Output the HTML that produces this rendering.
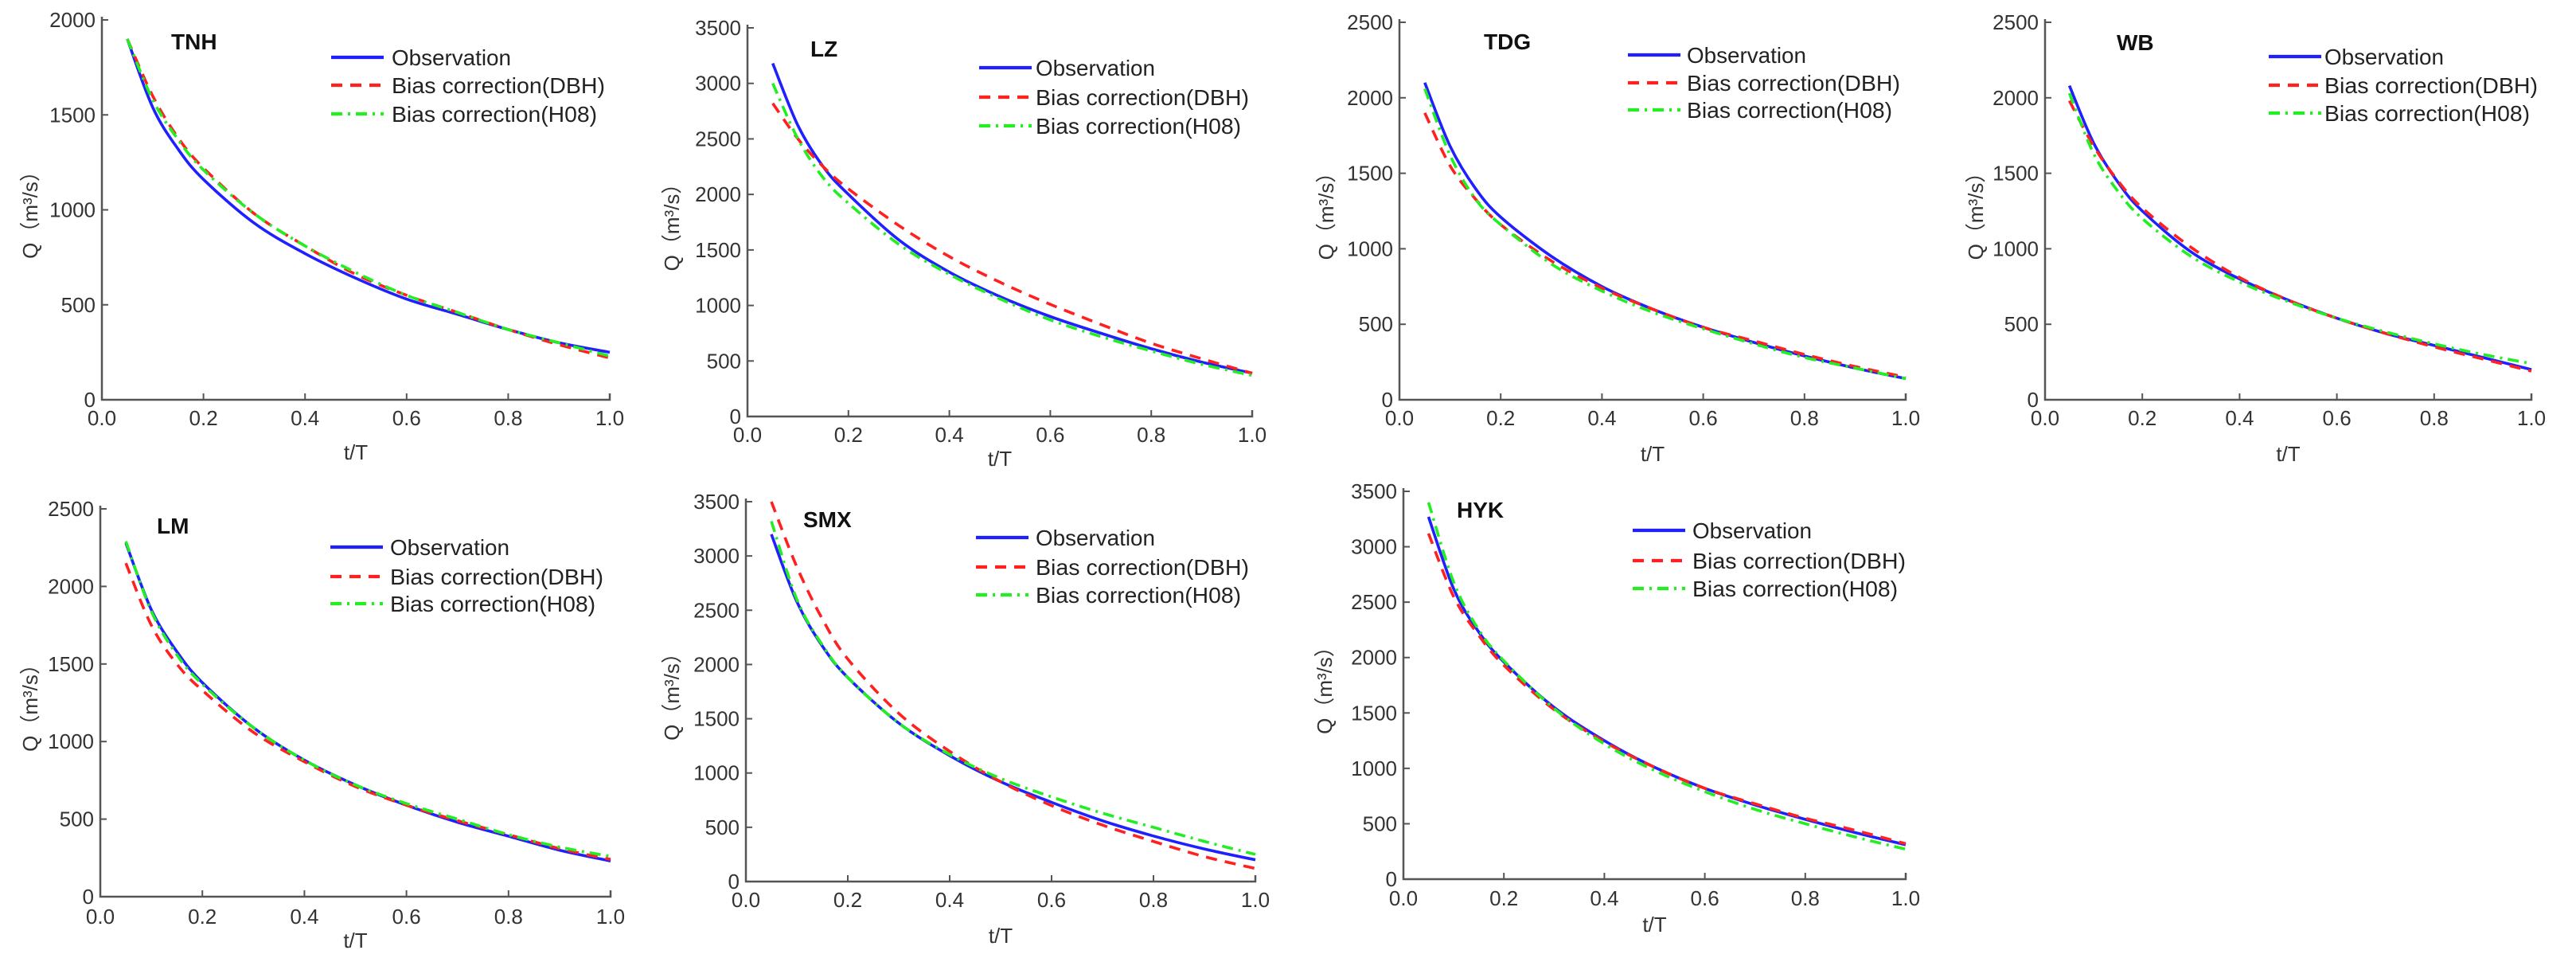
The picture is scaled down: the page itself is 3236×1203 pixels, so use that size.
<!DOCTYPE html>
<html><head><meta charset="utf-8">
<style>
html,body{margin:0;padding:0;background:#fff;}
svg{display:block;font-family:"Liberation Sans","Noto Sans CJK SC",sans-serif;}
</style></head>
<body>
<svg id="chart" width="3236" height="1203" viewBox="0 0 3236 1203"></svg>
<script>
const xValues = [0.05,0.1,0.15,0.2,0.3,0.4,0.5,0.6,0.7,0.8,0.9,1.0];
const xTicks = [0,0.2,0.4,0.6,0.8,1.0];
const xTickLabels = ["0.0","0.2","0.4","0.6","0.8","1.0"];
const stationNames = ["TNH","LZ","TDG","WB","LM","SMX","HYK"];
const yMaxes = [2000,3500,2500,2500,2500,3500,3500];
const obsTNH = [1900,1540,1320,1160,930,770,640,530,450,370,300,250];
const dbhTNH = [1900,1600,1380,1220,980,810,660,550,460,370,290,220];
const h08TNH = [1900,1580,1370,1210,980,810,670,550,460,370,300,230];
const obsLZ = [3180,2620,2250,2000,1590,1300,1080,900,750,610,490,390];
const dbhLZ = [2820,2500,2250,2050,1720,1440,1210,1010,830,660,520,390];
const h08LZ = [3000,2500,2150,1920,1550,1280,1060,870,720,590,470,370];
const obsTDG = [2100,1680,1400,1210,950,750,600,480,380,290,210,140];
const dbhTDG = [1900,1550,1330,1160,920,740,600,480,390,300,220,150];
const h08TDG = [2060,1620,1330,1160,900,720,580,470,370,280,210,140];
const obsWB = [2080,1700,1440,1250,980,800,660,540,440,360,280,200];
const dbhWB = [1980,1680,1450,1270,1010,810,660,540,440,350,270,190];
const h08WB = [2030,1630,1380,1200,950,780,650,540,450,370,300,240];
const obsLM = [2280,1850,1580,1380,1090,880,720,590,480,390,300,230];
const dbhLM = [2150,1750,1500,1330,1060,870,710,590,490,400,310,240];
const h08LM = [2290,1840,1560,1370,1090,880,720,600,500,400,320,260];
const obsSMX = [3200,2580,2170,1880,1460,1160,920,730,560,420,300,200];
const dbhSMX = [3500,2900,2420,2050,1550,1200,920,700,520,370,230,120];
const h08SMX = [3320,2600,2180,1880,1460,1170,950,780,630,500,370,250];
const obsHYK = [3270,2620,2230,1960,1550,1250,1010,820,670,540,420,310];
const dbhHYK = [3120,2550,2200,1930,1530,1240,1010,820,680,550,440,320];
const h08HYK = [3400,2680,2250,1970,1540,1220,980,790,630,500,380,270];
const seriesSets = [[obsTNH,dbhTNH,h08TNH],[obsLZ,dbhLZ,h08LZ],[obsTDG,dbhTDG,h08TDG],[obsWB,dbhWB,h08WB],[obsLM,dbhLM,h08LM],[obsSMX,dbhSMX,h08SMX],[obsHYK,dbhHYK,h08HYK]];
const legendLabels = ["Observation","Bias correction(DBH)","Bias correction(H08)"];

const layouts = [
 {l:128,r:766,t:25,b:502,tx:215,ty:62,lg:416,lgT:492,rows:[72,107,143],tick:534,xl:577,yl:38},
 {l:939,r:1573,t:35,b:523,tx:1018,ty:71,lg:1230,lgT:1301,rows:[85,122,158],tick:555,xl:585,yl:844},
 {l:1758,r:2394,t:28,b:502,tx:1864,ty:62,lg:2045,lgT:2119,rows:[69,104,138],tick:534,xl:579,yl:1666},
 {l:2569,r:3180,t:28,b:502,tx:2659,ty:63,lg:2850,lgT:2920,rows:[71,107,142],tick:534,xl:579,yl:2482},
 {l:126,r:767,t:639,b:1126,tx:197,ty:670,lg:415,lgT:490,rows:[687,724,758],tick:1160,xl:1190,yl:38},
 {l:937,r:1577,t:630,b:1107,tx:1009,ty:662,lg:1226,lgT:1301,rows:[675,712,747],tick:1139,xl:1184,yl:844},
 {l:1763,r:2394,t:617,b:1104,tx:1830,ty:650,lg:2051,lgT:2126,rows:[666,704,739],tick:1137,xl:1170,yl:1664}
];
const styles = [
 {c:"#2020ff",d:"",w:3.6},
 {c:"#ff2020",d:"14 10",w:3.6},
 {c:"#22ee22",d:"14 7 3 7",w:3.6}
];
const NS="http://www.w3.org/2000/svg";
const svg=document.getElementById('chart');
function mk(tag,attrs,parent){const e=document.createElementNS(NS,tag);for(const k in attrs)e.setAttribute(k,attrs[k]);(parent||svg).appendChild(e);return e;}
function smoothPath(pts){let d="M"+pts[0][0].toFixed(1)+","+pts[0][1].toFixed(1);
 for(let i=0;i<pts.length-1;i++){const p0=pts[i-1]||pts[i],p1=pts[i],p2=pts[i+1],p3=pts[i+2]||p2;
  const c1=[p1[0]+(p2[0]-p0[0])/6,p1[1]+(p2[1]-p0[1])/6],c2=[p2[0]-(p3[0]-p1[0])/6,p2[1]-(p3[1]-p1[1])/6];
  d+=" C"+c1[0].toFixed(1)+","+c1[1].toFixed(1)+" "+c2[0].toFixed(1)+","+c2[1].toFixed(1)+" "+p2[0].toFixed(1)+","+p2[1].toFixed(1);}
 return d;}
stationNames.forEach((name,pi)=>{
 const L=layouts[pi],ymax=yMaxes[pi];
 const g=mk('g',{});
 
 
 const xs=v=>L.l+(L.r-L.l)*v;
 const ys=v=>L.b-(L.b-L.t)*v/ymax;
 const ax=mk('path',{d:`M${L.l},${L.t-4} L${L.l},${L.b} L${L.r},${L.b} L${L.r},${L.b-8}`,fill:"none",stroke:"#555","stroke-width":2.5},g);
 
 
 for(let v=0;v<=ymax;v+=500){
  const y=ys(v);
  mk('line',{x1:L.l,x2:L.l+8,y1:y,y2:y,stroke:"#555","stroke-width":2},g);
  const t=mk('text',{x:L.l-8,y:y+9,"font-size":26,fill:"#333","text-anchor":"end"},g);
  t.textContent=String(v);
  
  
 }
 xTicks.forEach((v,i)=>{
  const x=xs(v);
  mk('line',{x1:x,x2:x,y1:L.b,y2:L.b-8,stroke:"#555","stroke-width":2},g);
  const t=mk('text',{x:x,y:L.tick,"font-size":26,fill:"#333","text-anchor":"middle"},g);
  t.textContent=xTickLabels[i];
  
  
 });
 const xl=mk('text',{x:(L.l+L.r)/2,y:L.xl,"font-size":26,fill:"#333","text-anchor":"middle"},g);
 xl.textContent="t/T";
 
 
 const cy=(L.t+L.b)/2;
 const yl=mk('text',{x:L.yl,y:cy,"font-size":26,fill:"#333","text-anchor":"middle",transform:`rotate(-90 ${L.yl} ${cy})`,dy:9},g);
 yl.textContent="Q（m³/s）";
 
 
 const ti=mk('text',{x:L.tx,y:L.ty,"font-size":28,"font-weight":"bold",fill:"#111"},g);
 ti.textContent=name;
 
 
 seriesSets[pi].forEach((arr,si)=>{
  const pts=xValues.map((xv,i)=>[xs(xv),ys(arr[i])]);
  const s=styles[si];
  const p=mk('path',{d:smoothPath(pts),fill:"none",stroke:s.c,"stroke-width":s.w},g);
  if(s.d)p.setAttribute('stroke-dasharray',s.d);
  
  
 });
 legendLabels.forEach((lab,si)=>{
  const y=L.rows[si],s=styles[si];
  const ln=mk('line',{x1:L.lg,x2:L.lg+66,y1:y,y2:y,stroke:s.c,"stroke-width":s.w+0.6},g);
  if(s.d)ln.setAttribute('stroke-dasharray',s.d);
  
  
  const t=mk('text',{x:L.lgT,y:y+10,"font-size":28,fill:"#222",textLength:si==0?150:268,lengthAdjust:"spacingAndGlyphs"},g);
  if(si==2)t.setAttribute('textLength',258);
  t.textContent=lab;
  
  
 });
});
</script>
</body></html>
